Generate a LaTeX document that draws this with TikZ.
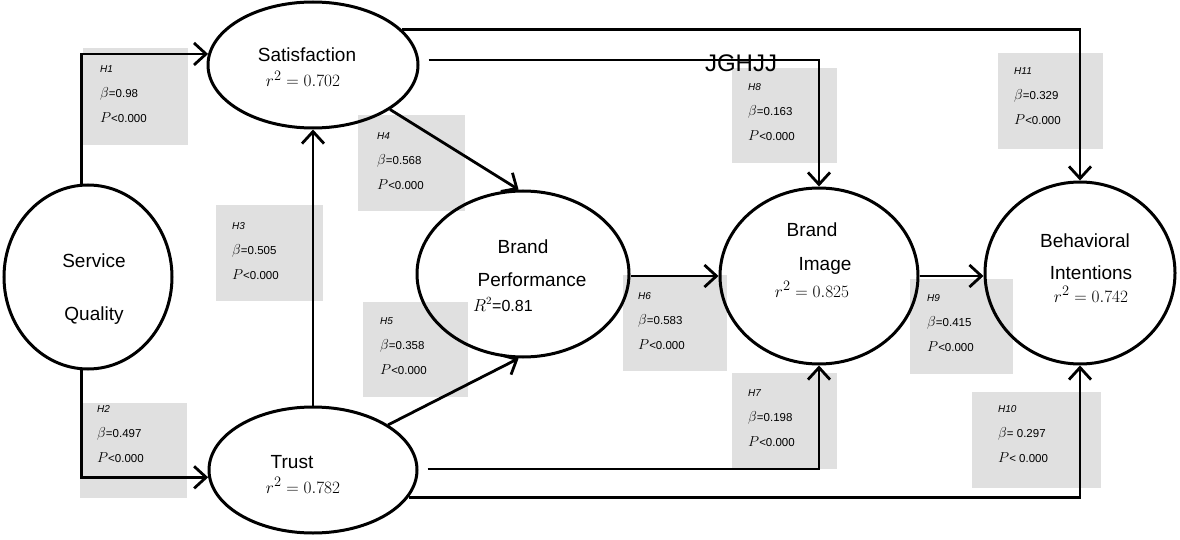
\documentclass[tikz,border=0pt]{standalone}
\usepackage{fontspec}
\setmainfont{Liberation Sans}
\usetikzlibrary{arrows.meta,shapes.geometric,calc}
\definecolor{boxgray}{RGB}{224,224,224}

% text of one hypothesis label: name, beta, p
\newcommand\hyptext[3]{\textit{\fontsize{10}{25}\selectfont #1}\\
  {\fontsize{15}{25}\selectfont$\beta$}#2\\
  {\fontsize{15}{25}\selectfont$P$}#3}

\begin{document}
\begin{tikzpicture}[x=1pt,y=-1pt,
  construct/.style={ellipse,draw,line width=3pt,inner sep=0pt},
  lbl/.style={font=\fontsize{19}{22}\selectfont,anchor=base,inner sep=0pt},
  rsq/.style={font=\fontsize{19}{22}\selectfont,anchor=base,inner sep=0pt},
  hbox/.style={fill=boxgray,anchor=north west,inner sep=0pt},
  hyp/.style={font=\fontsize{11.5}{25}\selectfont,align=left,anchor=north west,inner sep=0pt},
  arr/.style={line width=2.8pt,-{Straight Barb[length=12pt,width=22pt]}}]
\useasboundingbox (0,0) rectangle (1180,540);

% shaded hypothesis boxes
\node[hbox,minimum width=105pt,minimum height=97pt] (b1) at (83,48) {};
\node[hbox,minimum width=107pt,minimum height=95pt] (b2) at (80,403) {};
\node[hbox,minimum width=107pt,minimum height=96pt] (b3) at (216,205) {};
\node[hbox,minimum width=107pt,minimum height=96pt] (b4) at (358,115) {};
\node[hbox,minimum width=105pt,minimum height=95pt] (b5) at (363,302) {};
\node[hbox,minimum width=104pt,minimum height=96pt] (b6) at (623,275) {};
\node[hbox,minimum width=105pt,minimum height=96pt] (b7) at (732,373) {};
\node[hbox,minimum width=105pt,minimum height=95pt] (b8) at (732,68) {};
\node[hbox,minimum width=103pt,minimum height=95pt] (b9) at (910,279) {};
\node[hbox,minimum width=129pt,minimum height=96pt] (b10) at (972,392) {};
\node[hbox,minimum width=105pt,minimum height=96pt] (b11) at (998,53) {};

% hypothesis texts
\node[hyp] (t1) at (100,65) {\hyptext{H1}{=0.98}{<0.000}};
\node[hyp] (t2) at (97,405) {\hyptext{H2}{=0.497}{<0.000}};
\node[hyp] (t3) at (232,222) {\hyptext{H3}{=0.505}{<0.000}};
\node[hyp] (t4) at (377,132) {\hyptext{H4}{=0.568}{<0.000}};
\node[hyp] (t5) at (380,317) {\hyptext{H5}{=0.358}{<0.000}};
\node[hyp] (t6) at (638,292) {\hyptext{H6}{=0.583}{<0.000}};
\node[hyp] (t7) at (748,389) {\hyptext{H7}{=0.198}{<0.000}};
\node[hyp] (t8) at (748,83) {\hyptext{H8}{=0.163}{<0.000}};
\node[hyp] (t9) at (927,294) {\hyptext{H9}{=0.415}{<0.000}};
\node[hyp] (t10) at (998,405) {\hyptext{H10}{= 0.297}{< 0.000}};
\node[hyp] (t11) at (1014,67) {\hyptext{H11}{=0.329}{<0.000}};

% constructs
\node[construct,minimum width=168pt,minimum height=184pt] (sq) at (88,277) {};
\node[construct,minimum width=210pt,minimum height=126pt] (sat) at (313,65) {};
\node[construct,minimum width=208pt,minimum height=126pt] (tr) at (313,470) {};
\node[construct,minimum width=212pt,minimum height=166pt] (bp) at (523,274) {};
\node[construct,minimum width=198pt,minimum height=176pt] (bim) at (819,276) {};
\node[construct,minimum width=190pt,minimum height=182pt] (bint) at (1080,273) {};

% construct labels
\node[lbl] (sqa) at (94,267) {Service};
\node[lbl] (sqb) at (94,320) {Quality};
\node[lbl] (sata) at (307,62) {Satisfaction};
\node[rsq] (satb) at (303,87) {$r^2 = 0.702$};
\node[lbl] (tra) at (292,468) {Trust};
\node[rsq] (trb) at (303,493) {$r^2 = 0.782$};
\node[lbl] (bpa) at (523,253) {Brand};
\node[lbl] (bpb) at (532,286) {Performance};
\node[font=\fontsize{16}{18}\selectfont,anchor=base west,inner sep=0pt] (bpc) at (473,311) {$R^2$=0.81};
\node[lbl] (bima) at (812,236) {Brand};
\node[lbl] (bimb) at (825,270) {Image};
\node[rsq] (bimc) at (812,297) {$r^2 = 0.825$};
\node[lbl] (binta) at (1085,247) {Behavioral};
\node[lbl] (bintb) at (1091,279) {Intentions};
\node[rsq] (bintc) at (1091,302) {$r^2 = 0.742$};
\node[font=\fontsize{24}{26}\selectfont,inner sep=0pt] (jg) at (741,63) {JGHJJ};

% paths
\draw[arr] (sq.94) |- (sat.174.5);
\draw[arr] (sq.266) |- (tr.184);
\draw[arr] (tr.north) -- (sat.south);
\draw[arr] (sat.-30) -- (bp.93);
\draw[arr] (tr.31) -- (bp.-93);
\draw[arr] (bp.east |- bim.west) -- (bim.west);
\draw[arr] (bim.east) -- (bim.east -| bint.west);
\draw[arr] ($(sat.east)+(9,-5)$) -| (bim.north);
\draw[arr] (sat.22) -| (bint.north);
\draw[arr] ($(tr.east)+(9,-1)$) -| (bim.south);
\draw[arr] (tr.-16) -| (bint.south);
\end{tikzpicture}
\end{document}
